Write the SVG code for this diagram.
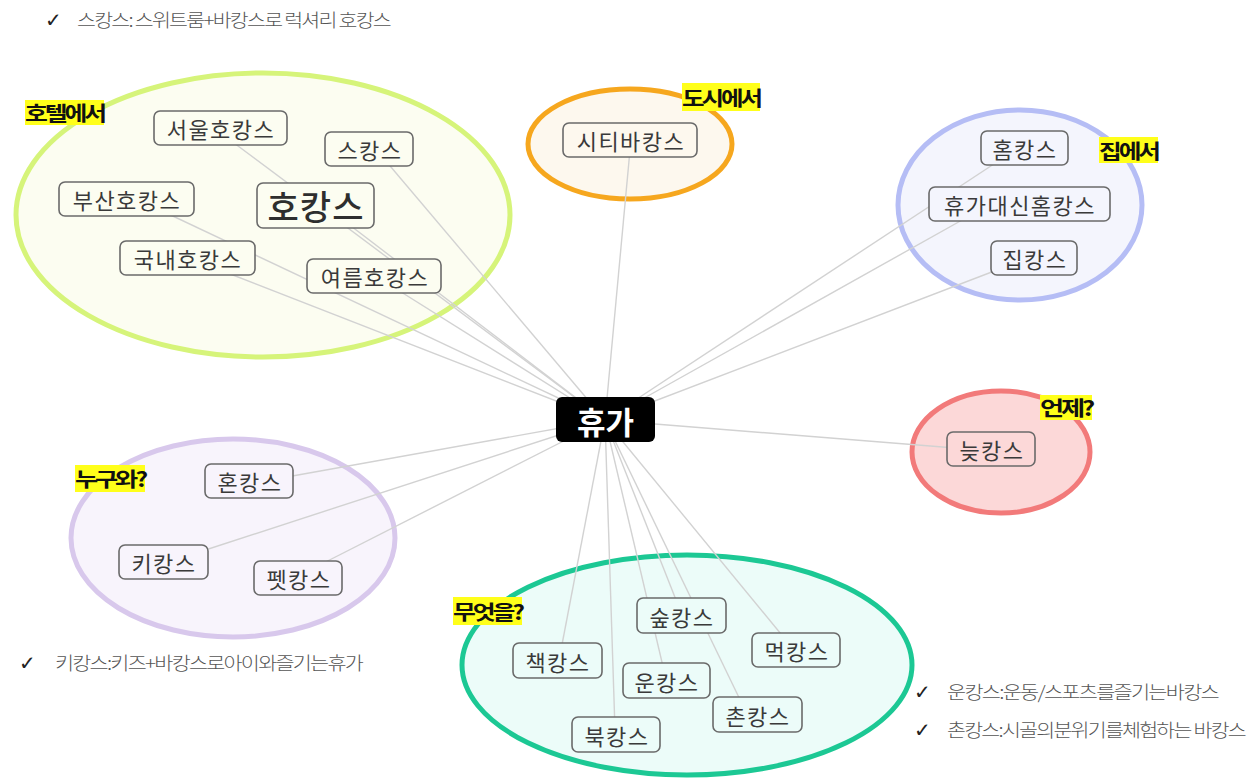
<svg xmlns="http://www.w3.org/2000/svg" width="1255" height="783" viewBox="0 0 1255 783">
<style>
.node rect{stroke:#6a6a6a;stroke-width:1.6}
.node text{font-family:"Noto Sans CJK KR","Noto Sans",sans-serif;font-size:22px;letter-spacing:1.5px;fill:#3a3a3a;text-anchor:middle;dominant-baseline:central}
.tag rect{fill:#ffff1a}
.tag text{font-family:"Noto Sans CJK KR","Noto Sans",sans-serif;font-size:20px;font-weight:700;fill:#111;letter-spacing:-2.5px;dominant-baseline:central}
.note{font-family:"Noto Sans CJK KR","Noto Sans",sans-serif;font-size:18px;font-weight:300;fill:#555;letter-spacing:-1.5px}
.chk{font-family:"DejaVu Sans",sans-serif;font-size:20px;fill:#222}
.conn line{stroke:#d2d2d2;stroke-width:1.4}
</style>
<rect width="1255" height="783" fill="#ffffff"/>

<g id="group-hotel-bg">
<ellipse cx="263" cy="215" rx="247" ry="142" fill="#fcfdf1" stroke="#d6f47a" stroke-width="5"/>
</g>
<g id="group-city-bg">
<ellipse cx="630" cy="144" rx="102" ry="55" fill="#fdf8ee" stroke="#f6a71e" stroke-width="5"/>
</g>
<g id="group-home-bg">
<ellipse cx="1020" cy="205" rx="122" ry="95" fill="#f4f5fd" stroke="#b5bdf5" stroke-width="5"/>
</g>
<g id="group-when-bg">
<ellipse cx="1001" cy="452" rx="89" ry="61" fill="#fcd8d8" stroke="#f27a7a" stroke-width="5"/>
</g>
<g id="group-who-bg">
<ellipse cx="233" cy="538" rx="162" ry="99" fill="#f8f4fc" stroke="#d8c8ec" stroke-width="5"/>
</g>
<g id="group-what-bg">
<ellipse cx="687" cy="665" rx="225" ry="110" fill="#ecfcf9" stroke="#1cc894" stroke-width="5"/>
</g>

<g id="connectors" class="conn">
<line x1="605" y1="420" x2="230" y2="140"/>
<line x1="605" y1="420" x2="385" y2="160"/>
<line x1="605" y1="420" x2="160" y2="210"/>
<line x1="605" y1="420" x2="330" y2="210"/>
<line x1="605" y1="420" x2="220" y2="270"/>
<line x1="605" y1="420" x2="390" y2="285"/>
<line x1="605" y1="420" x2="630" y2="150"/>
<line x1="605" y1="420" x2="1000" y2="160"/>
<line x1="605" y1="420" x2="980" y2="210"/>
<line x1="605" y1="420" x2="1010" y2="265"/>
<line x1="605" y1="420" x2="980" y2="450"/>
<line x1="605" y1="420" x2="270" y2="480"/>
<line x1="605" y1="420" x2="190" y2="555"/>
<line x1="605" y1="420" x2="300" y2="575"/>
<line x1="605" y1="420" x2="560" y2="655"/>
<line x1="605" y1="420" x2="615" y2="730"/>
<line x1="605" y1="420" x2="665" y2="675"/>
<line x1="605" y1="420" x2="680" y2="610"/>
<line x1="605" y1="420" x2="745" y2="710"/>
<line x1="605" y1="420" x2="790" y2="645"/>
</g>

<g id="node-seoul" class="node"><rect x="154" y="111" width="133" height="34" rx="6" fill="#fcfdf1"/><text x="221" y="128">서울호캉스</text></g>
<g id="node-scance" class="node"><rect x="325" y="132" width="88" height="34" rx="6" fill="#fcfdf1"/><text x="370" y="149">스캉스</text></g>
<g id="node-busan" class="node"><rect x="59" y="182" width="135" height="34" rx="6" fill="#fcfdf1"/><text x="127" y="199">부산호캉스</text></g>
<g id="node-hocance" class="node"><rect x="257" y="183" width="117" height="45" rx="6" fill="#fcfdf1" stroke-width="2"/><text x="316" y="205.5" style="font-size:34px;font-weight:500;letter-spacing:1px;fill:#2e2e2e">호캉스</text></g>
<g id="node-domestic" class="node"><rect x="120" y="241" width="135" height="34" rx="6" fill="#fcfdf1"/><text x="188" y="258">국내호캉스</text></g>
<g id="node-summer" class="node"><rect x="307" y="259" width="134" height="34" rx="6" fill="#fcfdf1"/><text x="375" y="276">여름호캉스</text></g>

<g id="node-city" class="node"><rect x="563" y="123" width="134" height="34" rx="6" fill="#fdf8ee"/><text x="631" y="140">시티바캉스</text></g>

<g id="node-home" class="node"><rect x="981" y="131" width="87" height="34" rx="6" fill="#f4f5fd"/><text x="1025" y="148">홈캉스</text></g>
<g id="node-homeinstead" class="node"><rect x="929" y="187" width="181" height="34" rx="6" fill="#f4f5fd"/><text x="1020" y="204">휴가대신홈캉스</text></g>
<g id="node-jip" class="node"><rect x="991" y="241" width="86" height="34" rx="6" fill="#f4f5fd"/><text x="1035" y="258">집캉스</text></g>

<g id="node-late" class="node"><rect x="947" y="432" width="88" height="34" rx="6" fill="#fcd8d8"/><text x="992" y="449">늦캉스</text></g>

<g id="node-hon" class="node"><rect x="205" y="464" width="88" height="34" rx="6" fill="#f8f4fc"/><text x="250" y="481">혼캉스</text></g>
<g id="node-ki" class="node"><rect x="119" y="545" width="89" height="34" rx="6" fill="#f8f4fc"/><text x="164" y="562">키캉스</text></g>
<g id="node-pet" class="node"><rect x="254" y="561" width="88" height="34" rx="6" fill="#f8f4fc"/><text x="299" y="578">펫캉스</text></g>

<g id="node-forest" class="node"><rect x="637" y="598" width="89" height="35" rx="6" fill="#ecfcf9"/><text x="682" y="615.5">숲캉스</text></g>
<g id="node-book1" class="node"><rect x="513" y="643" width="89" height="35" rx="6" fill="#ecfcf9"/><text x="558" y="660.5">책캉스</text></g>
<g id="node-eat" class="node"><rect x="752" y="633" width="88" height="34" rx="6" fill="#ecfcf9"/><text x="797" y="650">먹캉스</text></g>
<g id="node-sport" class="node"><rect x="623" y="663" width="87" height="35" rx="6" fill="#ecfcf9"/><text x="667" y="680.5">운캉스</text></g>
<g id="node-village" class="node"><rect x="713" y="697" width="89" height="35" rx="6" fill="#ecfcf9"/><text x="758" y="714.5">촌캉스</text></g>
<g id="node-book2" class="node"><rect x="572" y="717" width="88" height="35" rx="6" fill="#ecfcf9"/><text x="617" y="734.5">북캉스</text></g>

<g id="node-center">
<rect x="556" y="397" width="99" height="45" rx="6" fill="#000"/>
<text x="605.5" y="420" text-anchor="middle" dominant-baseline="central" style="font-family:'Noto Sans CJK KR','Noto Sans',sans-serif;font-size:31px;font-weight:700;fill:#fff">휴가</text>
</g>

<g id="tag-hotel" class="tag"><rect x="25" y="100" width="79" height="25"/><text x="25" y="112.5" textLength="79" lengthAdjust="spacingAndGlyphs">호텔에서</text></g>
<g id="tag-city" class="tag"><rect x="682" y="83" width="78" height="28"/><text x="682" y="97" textLength="78" lengthAdjust="spacingAndGlyphs">도시에서</text></g>
<g id="tag-home" class="tag"><rect x="1099" y="137" width="59" height="26"/><text x="1099" y="150" textLength="59" lengthAdjust="spacingAndGlyphs">집에서</text></g>
<g id="tag-when" class="tag"><rect x="1040" y="395" width="52" height="25"/><text x="1040" y="407.5" textLength="52" lengthAdjust="spacingAndGlyphs">언제?</text></g>
<g id="tag-who" class="tag"><rect x="75" y="465" width="70" height="27"/><text x="75" y="478.5" textLength="70" lengthAdjust="spacingAndGlyphs">누구와?</text></g>
<g id="tag-what" class="tag"><rect x="453" y="597" width="69" height="28"/><text x="453" y="611" textLength="69" lengthAdjust="spacingAndGlyphs">무엇을?</text></g>

<g id="notes">
<text class="chk" x="45" y="27">✓</text>
<text class="note" x="77" y="27" textLength="313" lengthAdjust="spacingAndGlyphs">스캉스: 스위트룸+바캉스로 럭셔리 호캉스</text>
<text class="chk" x="19" y="670">✓</text>
<text class="note" x="55" y="670" textLength="307" lengthAdjust="spacingAndGlyphs">키캉스:키즈+바캉스로아이와즐기는휴가</text>
<text class="chk" x="914" y="699">✓</text>
<text class="note" x="947" y="699" textLength="271" lengthAdjust="spacingAndGlyphs">운캉스:운동/스포츠를즐기는바캉스</text>
<text class="chk" x="914" y="737">✓</text>
<text class="note" x="947" y="737" textLength="298" lengthAdjust="spacingAndGlyphs">촌캉스:시골의분위기를체험하는 바캉스</text>
</g>
</svg>
